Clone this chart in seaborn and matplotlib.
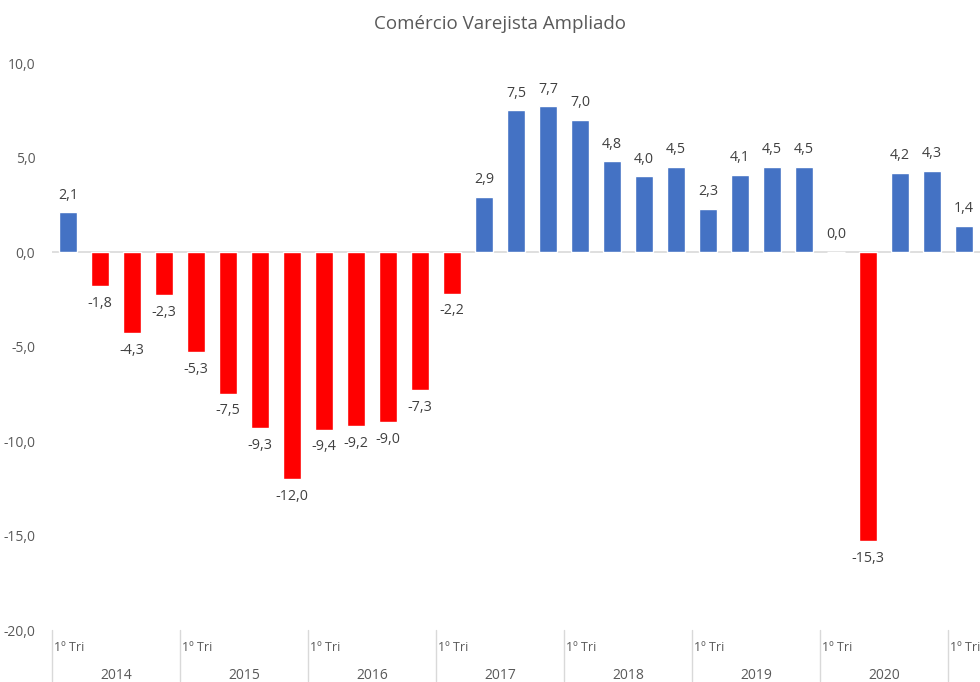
import numpy as np
import pandas as pd
import matplotlib
matplotlib.use("Agg")
import matplotlib.pyplot as plt
import seaborn as sns

title = "Comércio Varejista Ampliado"
years = ["2014", "2015", "2016", "2017", "2018", "2019", "2020", "2021"]
quarters = ["1º Tri", "2º Tri", "3º Tri", "4º Tri"]
values = [2.1, -1.8, -4.3, -2.3,
          -5.3, -7.5, -9.3, -12.0,
          -9.4, -9.2, -9.0, -7.3,
          -2.2, 2.9, 7.5, 7.7,
          7.0, 4.8, 4.0, 4.5,
          2.3, 4.1, 4.5, 4.5,
          0.0, -15.3, 4.2, 4.3,
          1.4]

sns.set_style("white")
plt.rcParams['font.family'] = ['Open Sans', 'DejaVu Sans']

n = len(values)
df = pd.DataFrame({
    "pos": [str(i) for i in range(n)],
    "val": values,
    "sinal": ["neg" if v < 0 else "pos" for v in values],
})

fig = plt.figure(figsize=(9.8, 6.82), dpi=100)
ax = fig.add_axes([0.053, 0.0762, 0.947, 0.8314])
sns.barplot(data=df, x="pos", y="val", hue="sinal", dodge=False,
            palette={"pos": "#4472C4", "neg": "#FF0000"}, saturation=1,
            order=df["pos"].tolist(), width=0.55, legend=False, ax=ax)

ax.set_xlim(-0.5, n - 0.5)
ax.set_ylim(-20, 10)
ax.set_yticks(np.arange(-20, 10.1, 5))
ax.set_yticklabels([f"{t:.1f}".replace(".", ",") for t in np.arange(-20, 10.1, 5)],
                   color="#595959", fontsize=10)
ax.tick_params(axis="y", length=0, pad=12)
ax.set_xticks([])
ax.set_xlabel("")
ax.set_ylabel("")
for s in ax.spines.values():
    s.set_visible(False)
ax.axhline(0, color="#D9D9D9", lw=1.2, zorder=0)

# rótulos de dados
for i, v in enumerate(values):
    txt = f"{v:.1f}".replace(".", ",")
    if v >= 0:
        ax.annotate(txt, (i, v), xytext=(0, 7), textcoords="offset points",
                    ha="center", va="bottom", fontsize=10.3, color="#404040")
    else:
        ax.annotate(txt, (i, v), xytext=(0, -7), textcoords="offset points",
                    ha="center", va="top", fontsize=10.3, color="#404040")

# eixo de categorias em dois níveis
trans = ax.get_xaxis_transform()
for k, yr in enumerate(years):
    start = k * 4 - 0.5
    ax.plot([start, start], [0, -0.09], transform=trans, color="#D9D9D9",
            lw=1, clip_on=False)
    ax.text(start + 0.05, -0.03, quarters[0], transform=trans, ha="left",
            va="center", fontsize=9, color="#595959")
    if start + 4 <= n - 0.5:
        ax.text(start + 2, -0.08, yr, transform=trans, ha="center",
                va="center", fontsize=10, color="#595959")

fig.text(0.51, 0.965, title, ha="center", va="center", fontsize=13.5,
         color="#595959")

fig.savefig("out.png", dpi=100)
